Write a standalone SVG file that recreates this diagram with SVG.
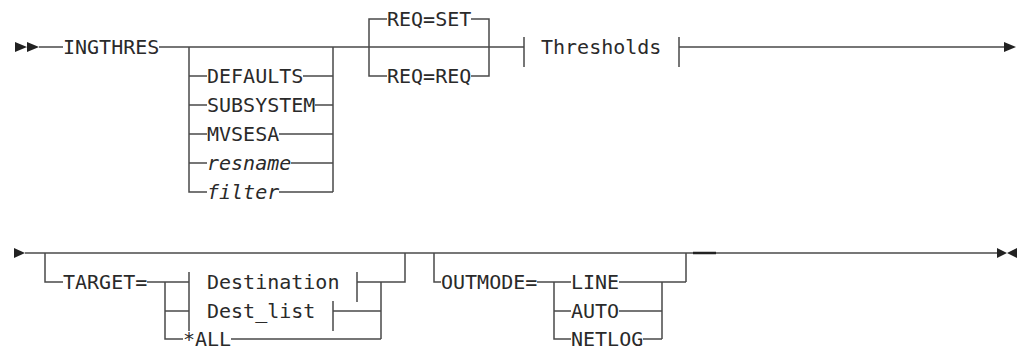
<svg xmlns="http://www.w3.org/2000/svg" width="1021" height="350" viewBox="0 0 1021 350">
<style>
.ln{stroke:#4a4a4a;stroke-width:1.5;fill:none}
.bk{stroke:#222;stroke-width:2.5;fill:none}
.mk{fill:#222;stroke:none}
.t{font-family:"DejaVu Sans Mono","Liberation Mono",monospace;font-size:20px;fill:#2a2a2a}
.i{font-style:italic}
</style>
<rect width="1021" height="350" fill="#fff"/>
<g id="connectors">
<!-- row 1 -->
<path class="ln" d="M39 47H63M159 47H524"/>
<path class="ln" d="M189 47V192H207M189 76H207M189 105H207M189 134H207M189 163H207"/>
<path class="ln" d="M333 47V192M303 76H333M315 105H333M279 134H333M291 163H333M279 192H333"/>
<path class="ln" d="M387 19H369V76H387M471 19H489V76H471"/>
<path class="ln" d="M524 37V67M679 37V67M679 47H1004"/>
<!-- row 2 -->
<path class="ln" d="M25 253H997"/>
<path class="ln" d="M45 253V282H63M147 282H189M165 282V339H183M165 311H189M189 272V331"/>
<path class="ln" d="M357 272V302M357 282H381M333 301V331M333 311H381M231 339H381M381 282V339M381 282H405V253"/>
<path class="ln" d="M434 253V282H441M537 282H571M554 282V339H571M554 311H571"/>
<path class="ln" d="M619 282H686M619 311H662M643 339H662M662 282V339M686 282V253"/>
<path class="bk" d="M693 253H716"/>
</g>
<g id="start1"><path class="mk" d="M15 42L27 47L15 52ZM27 42L39 47L27 52Z"/></g>
<g id="n-ingthres"><text class="t" x="63" y="54">INGTHRES</text></g>
<g id="n-defaults"><text class="t" x="207" y="83">DEFAULTS</text></g>
<g id="n-subsystem"><text class="t" x="207" y="112">SUBSYSTEM</text></g>
<g id="n-mvsesa"><text class="t" x="207" y="141">MVSESA</text></g>
<g id="n-resname"><text class="t i" x="207" y="170">resname</text></g>
<g id="n-filter"><text class="t i" x="207" y="199">filter</text></g>
<g id="n-reqset"><text class="t" x="387" y="26">REQ=SET</text></g>
<g id="n-reqreq"><text class="t" x="387" y="83">REQ=REQ</text></g>
<g id="n-thresholds"><text class="t" x="541" y="54">Thresholds</text></g>
<g id="end1"><path class="mk" d="M1004 42L1016 47L1004 52Z"/></g>
<g id="start2"><path class="mk" d="M14 248L25 253L14 258Z"/></g>
<g id="n-target"><text class="t" x="63" y="289">TARGET=</text></g>
<g id="n-destination"><text class="t" x="207" y="289">Destination</text></g>
<g id="n-destlist"><text class="t" x="207" y="318">Dest_list</text></g>
<g id="n-all"><text class="t" x="183" y="346">*ALL</text></g>
<g id="n-outmode"><text class="t" x="441" y="289">OUTMODE=</text></g>
<g id="n-line"><text class="t" x="571" y="289">LINE</text></g>
<g id="n-auto"><text class="t" x="571" y="318">AUTO</text></g>
<g id="n-netlog"><text class="t" x="571" y="346">NETLOG</text></g>
<g id="end2"><path class="mk" d="M997 248L1007 253L997 258ZM1017 248L1007 253L1017 258Z"/></g>
</svg>
